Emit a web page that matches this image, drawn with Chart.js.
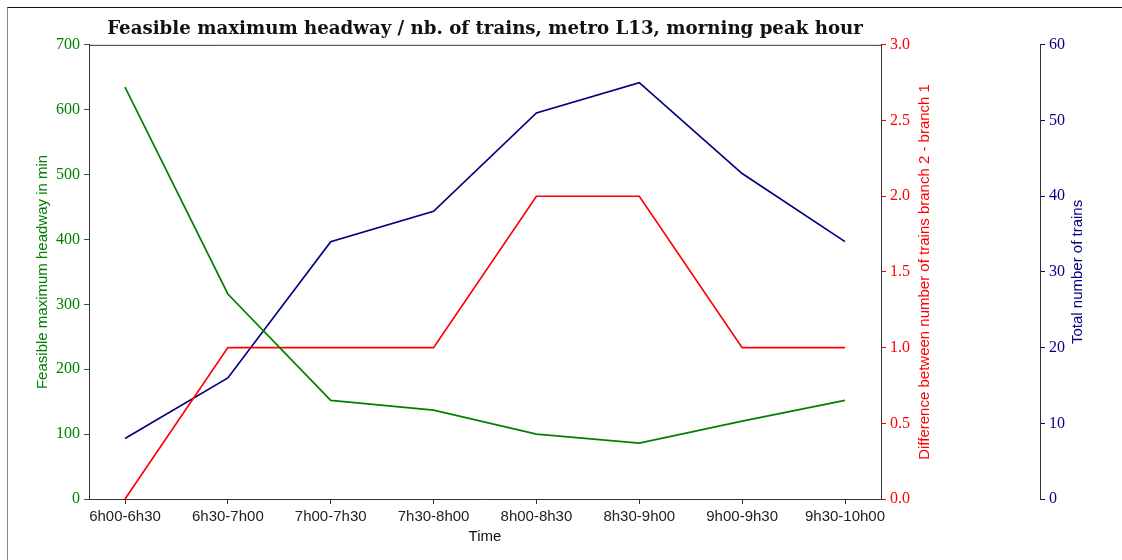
<!DOCTYPE html>
<html>
<head>
 <title>Feasible maximum headway - metro L13</title>
 <script src="https://cdn.jsdelivr.net/npm/chart.js"></script>
 <style>
  body { margin: 0; background: #fff; }
  #wrap { position: relative; width: 1122px; height: 560px; }
  #frame { position: absolute; left: 7px; top: 7px; width: 1115px; height: 553px;
           border-top: 1px solid #111; border-left: 1px solid #888; box-sizing: border-box; }
  #chart-container { position: absolute; left: 0; top: 0; width: 1122px; height: 560px; }
 </style>
</head>
<body>
 <div id="wrap">
  <div id="frame"></div>
  <div id="chart-container">
   <canvas id="headwayChart"></canvas>
  </div>
 </div>

 <script>
  // time slots on the x axis
  const timeSlots = ['6h00-6h30', '6h30-7h00', '7h00-7h30', '7h30-8h00',
                     '8h00-8h30', '8h30-9h00', '9h00-9h30', '9h30-10h00'];
  // feasible maximum headway (min), left axis
  const headway = [635, 316, 152, 137, 100, 86, 120, 152];
  // difference in trains branch 2 - branch 1, red axis
  const branchDiff = [0, 1, 1, 1, 2, 2, 1, 1];
  // total number of trains, blue axis
  const totalTrains = [8, 16, 34, 38, 51, 55, 43, 34];

  const GREEN = '#008000';
  const RED = '#ff0000';
  const NAVY = '#000080';
  const SERIF = "'Liberation Serif', serif";
  const SANS = "'Liberation Sans', sans-serif";

  const toPoints = arr => arr.map((v, i) => ({ x: i, y: v }));

  // right axes titles read bottom to top like the original
  const rightTitles = {
   id: 'rightTitles',
   afterDraw(chart) {
    const { ctx, chartArea, scales } = chart;
    const midY = (chartArea.top + chartArea.bottom) / 2;
    const items = [
     { text: 'Difference between number of trains branch 2 - branch 1', x: scales.y1.left + 44, color: RED },
     { text: 'Total number of trains', x: scales.y2.left + 38, color: NAVY }
    ];
    ctx.save();
    ctx.font = '15px ' + SANS;
    ctx.textAlign = 'center';
    ctx.textBaseline = 'middle';
    items.forEach(it => {
     ctx.save();
     ctx.translate(it.x, midY);
     ctx.rotate(-Math.PI / 2);
     ctx.fillStyle = it.color;
     ctx.fillText(it.text, 0, 0);
     ctx.restore();
    });
    // top spine of the plot box
    ctx.strokeStyle = '#333';
    ctx.lineWidth = 1;
    ctx.beginPath();
    ctx.moveTo(chartArea.left, chartArea.top + 0.5);
    ctx.lineTo(chartArea.right, chartArea.top + 0.5);
    ctx.stroke();
    ctx.restore();
   }
  };

  const ctx = document.getElementById('headwayChart').getContext('2d');
  const chart = new Chart(ctx, {
   type: 'line',
   data: {
    datasets: [
     { label: 'Headway', data: toPoints(headway), borderColor: GREEN, yAxisID: 'y' },
     { label: 'Branch difference', data: toPoints(branchDiff), borderColor: RED, yAxisID: 'y1' },
     { label: 'Total trains', data: toPoints(totalTrains), borderColor: NAVY, yAxisID: 'y2' }
    ]
   },
   options: {
    responsive: true,
    maintainAspectRatio: false,
    animation: false,
    layout: { padding: 0 },
    elements: {
     line: { borderWidth: 1.7, tension: 0, fill: false },
     point: { radius: 0, hoverRadius: 0 }
    },
    datasets: { line: { clip: false } },
    plugins: {
     legend: { display: false },
     tooltip: { enabled: false },
     title: {
      display: true,
      fullSize: false,
      text: 'Feasible maximum headway / nb. of trains, metro L13, morning peak hour',
      color: '#111',
      font: { family: "'DejaVu Serif', serif", size: 18.2, weight: 'bold', lineHeight: 1.2 },
      padding: { top: 18, bottom: 5 }
     }
    },
    scales: {
     x: {
      type: 'linear',
      position: 'bottom',
      min: -0.35,
      max: 7.35,
      afterBuildTicks: s => { s.ticks = timeSlots.map((t, i) => ({ value: i })); },
      afterFit: s => { s.height = 61; },
      ticks: {
       autoSkip: false, maxRotation: 0, padding: 4,
       color: '#222', font: { family: SANS, size: 15 },
       callback: v => timeSlots[v]
      },
      grid: { drawOnChartArea: false, tickLength: 5, color: '#333' },
      border: { color: '#333', width: 1 },
      title: {
       display: true, text: 'Time', color: '#111',
       font: { family: SANS, size: 15 }, padding: { bottom: 14 }
      }
     },
     y: {
      position: 'left',
      min: 0, max: 700,
      afterFit: s => { s.width = 89; },
      ticks: { stepSize: 100, padding: 4, color: GREEN, font: { family: SERIF, size: 16 } },
      grid: { drawOnChartArea: false, tickLength: 5, color: GREEN },
      border: { color: '#333', width: 1 },
      title: {
       display: true, text: 'Feasible maximum headway in min', color: GREEN,
       font: { family: SANS, size: 15 }, padding: { top: 34 }
      }
     },
     y1: {
      position: 'right',
      weight: 0,
      min: 0, max: 3,
      afterFit: s => { s.width = 159; },
      ticks: { stepSize: 0.5, padding: 4, color: RED, font: { family: SERIF, size: 16 },
               callback: v => Number(v).toFixed(1) },
      grid: { drawOnChartArea: false, tickLength: 5, color: RED },
      border: { color: '#333', width: 1 }
     },
     y2: {
      position: 'right',
      weight: 1,
      min: 0, max: 60,
      afterFit: s => { s.width = 82; },
      ticks: { stepSize: 10, padding: 4, color: NAVY, font: { family: SERIF, size: 16 } },
      grid: { drawOnChartArea: false, tickLength: 5, color: NAVY },
      border: { color: '#333', width: 1 }
     }
    }
   },
   plugins: [rightTitles]
  });
 </script>
</body>
</html>
